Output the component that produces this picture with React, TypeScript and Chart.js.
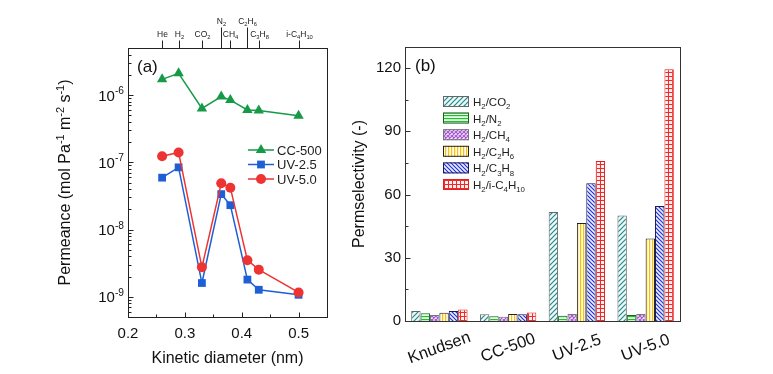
import React, { useEffect, useRef } from 'react';
import { Chart, registerables } from 'chart.js';
Chart.register(...registerables);

const W = 773;
const H = 374;
const FONT = "'Liberation Sans', Arial, Helvetica, sans-serif";

// ---------- Panel (a): permeance vs kinetic diameter ----------
const diameters = [0.26, 0.289, 0.33, 0.364, 0.38, 0.41, 0.43, 0.5];
const gasLabels = ['He', 'H_2', 'CO_2', 'N_2', 'CH_4', 'C_2H_6', 'C_3H_8', 'i-C_4H_{10}'];
const gasRaised = [false, false, false, true, false, true, false, false];
const cc500 = [1.71e-6, 2.1e-6, 6.3e-7, 9.5e-7, 8.4e-7, 6.0e-7, 5.9e-7, 4.9e-7];
const uv25 = [5.9e-8, 8.4e-8, 1.6e-9, 3.36e-8, 2.3e-8, 1.8e-9, 1.27e-9, 1.07e-9];
const uv50 = [1.23e-7, 1.4e-7, 2.74e-9, 4.86e-8, 4.19e-8, 3.5e-9, 2.53e-9, 1.16e-9];
const seriesNamesA = ['CC-500', 'UV-2.5', 'UV-5.0'];
const xTicksA = [0.2, 0.3, 0.4, 0.5];
const yTicksA = [1e-9, 1e-8, 1e-7, 1e-6];
const yTickLabelsA = ['10^{-9}', '10^{-8}', '10^{-7}', '10^{-6}'];
const yTitleA = 'Permeance (mol Pa^{-1} m^{-2} s^{-1})';

// ---------- Panel (b): permselectivity ----------
const membranes = ['Knudsen', 'CC-500', 'UV-2.5', 'UV-5.0'];
const pairLabels = ['H_2/CO_2', 'H_2/N_2', 'H_2/CH_4', 'H_2/C_2H_6', 'H_2/C_3H_8', 'H_2/i-C_4H_{10}'];
const pairNames = ['H₂/CO₂', 'H₂/N₂', 'H₂/CH₄', 'H₂/C₂H₆', 'H₂/C₃H₈', 'H₂/i-C₄H₁₀'];
const selCO2 = [4.7, 3.2, 51.7, 50.0];
const selN2 = [3.7, 2.2, 2.5, 2.9];
const selCH4 = [2.8, 2.0, 3.3, 3.3];
const selC2H6 = [3.9, 3.3, 46.5, 39.2];
const selC3H8 = [4.7, 3.2, 65.4, 54.6];
const selC4H10 = [5.4, 4.0, 75.9, 119.4];
const yTicksB = [0, 30, 60, 90, 120];

const GREEN = '#169a48';
const BLUE = '#1f5fd6';
const RED = '#ee3333';

type Seg = { t: string; mode: 'n' | 'sub' | 'sup' };
function parseRich(text: string): Seg[] {
  const segs: Seg[] = [];
  let i = 0;
  while (i < text.length) {
    const ch = text[i];
    if (ch === '_' || ch === '^') {
      let s = '';
      if (text[i + 1] === '{') {
        const j = text.indexOf('}', i + 2);
        s = text.slice(i + 2, j);
        i = j + 1;
      } else {
        s = text[i + 1];
        i += 2;
      }
      segs.push({ t: s, mode: ch === '_' ? 'sub' : 'sup' });
    } else {
      let j = i;
      while (j < text.length && text[j] !== '_' && text[j] !== '^') j++;
      segs.push({ t: text.slice(i, j), mode: 'n' });
      i = j;
    }
  }
  return segs;
}

function drawRich(ctx: CanvasRenderingContext2D, text: string, x: number, y: number, size: number, align: 'left' | 'center' | 'right', color: string) {
  const segs = parseRich(text);
  const small = size * 0.68;
  const fontN = `${size}px ${FONT}`;
  const fontS = `${small}px ${FONT}`;
  let total = 0;
  const widths = segs.map((s) => {
    ctx.font = s.mode === 'n' ? fontN : fontS;
    const w = ctx.measureText(s.t).width;
    total += w;
    return w;
  });
  let cx = align === 'left' ? x : align === 'center' ? x - total / 2 : x - total;
  ctx.fillStyle = color;
  ctx.textAlign = 'left';
  ctx.textBaseline = 'alphabetic';
  segs.forEach((s, k) => {
    ctx.font = s.mode === 'n' ? fontN : fontS;
    const dy = s.mode === 'sub' ? size * 0.28 : s.mode === 'sup' ? -size * 0.42 : 0;
    ctx.fillText(s.t, cx, y + dy);
    cx += widths[k];
  });
}

function drawMarker(ctx: CanvasRenderingContext2D, style: string, x: number, y: number, r: number, color: string) {
  ctx.fillStyle = color;
  ctx.strokeStyle = color;
  ctx.beginPath();
  if (style === 'triangle') {
    let rad = 0;
    ctx.moveTo(x + Math.sin(rad) * r, y - Math.cos(rad) * r);
    rad += (2 * Math.PI) / 3;
    ctx.lineTo(x + Math.sin(rad) * r, y - Math.cos(rad) * r);
    rad += (2 * Math.PI) / 3;
    ctx.lineTo(x + Math.sin(rad) * r, y - Math.cos(rad) * r);
    ctx.closePath();
  } else if (style === 'rect') {
    const s = r * Math.SQRT1_2;
    ctx.rect(x - s, y - s, 2 * s, 2 * s);
  } else {
    ctx.arc(x, y, r, 0, Math.PI * 2);
  }
  ctx.fill();
}

function makePattern(kind: string, fg: string, bg: string): CanvasPattern | string {
  const c = document.createElement('canvas');
  const s = kind === 'fwd' ? 5 : kind === 'horiz' || kind === 'vert' ? 3 : 4;
  c.width = s;
  c.height = s;
  const g = c.getContext('2d');
  if (!g) return fg;
  g.fillStyle = bg;
  g.fillRect(0, 0, s, s);
  g.strokeStyle = fg;
  g.fillStyle = fg;
  g.lineWidth = 1.2;
  g.beginPath();
  if (kind === 'fwd') {
    g.moveTo(0, s); g.lineTo(s, 0);
    g.moveTo(-1, 1); g.lineTo(1, -1);
    g.moveTo(s - 1, s + 1); g.lineTo(s + 1, s - 1);
    g.stroke();
  } else if (kind === 'back') {
    g.moveTo(0, 0); g.lineTo(s, s);
    g.moveTo(-1, s - 1); g.lineTo(1, s + 1);
    g.moveTo(s - 1, -1); g.lineTo(s + 1, 1);
    g.stroke();
  } else if (kind === 'cross') {
    g.moveTo(0, 0); g.lineTo(s, s);
    g.moveTo(0, s); g.lineTo(s, 0);
    g.stroke();
  } else if (kind === 'horiz') {
    g.fillRect(0, 1, s, 1.2);
  } else if (kind === 'vert') {
    g.fillRect(1, 0, 1.2, s);
  } else if (kind === 'grid') {
    g.fillRect(0, 0, s, 1);
    g.fillRect(0, 0, 1, s);
  }
  const p = g.createPattern(c, 'repeat');
  return p || fg;
}

function line(ctx: CanvasRenderingContext2D, x1: number, y1: number, x2: number, y2: number) {
  ctx.beginPath();
  ctx.moveTo(x1, y1);
  ctx.lineTo(x2, y2);
  ctx.stroke();
}

const plugA = {
  id: 'decorA',
  afterDraw(chart: any) {
    const { ctx, chartArea: ca, scales } = chart;
    const xs = scales.x;
    const ys = scales.y;
    const L = Math.round(ca.left) + 0.5;
    const R = Math.round(ca.right) + 0.5;
    const T = Math.round(ca.top) + 0.5;
    const B = Math.round(ca.bottom) + 0.5;
    ctx.save();
    ctx.strokeStyle = '#222';
    ctx.lineWidth = 1;
    ctx.strokeRect(L, T, R - L, B - T);
    // bottom inward ticks
    for (let k = 4; k <= 11; k++) {
      const v = k * 0.05;
      const px = Math.round(xs.getPixelForValue(v)) + 0.5;
      line(ctx, px, B, px, B - (k % 2 === 0 ? 5 : 3));
    }
    // left inward ticks (log)
    for (let d = -10; d <= -6; d++) {
      for (let m = 1; m <= 9; m++) {
        const v = m * Math.pow(10, d);
        if (v < ys.min * 0.999 || v > ys.max * 1.001) continue;
        const py = Math.round(ys.getPixelForValue(v)) + 0.5;
        line(ctx, L, py, L + (m === 1 ? 5 : 3), py);
      }
    }
    // y tick labels with superscripts
    yTicksA.forEach((v, i) => {
      const py = ys.getPixelForValue(v);
      drawRich(ctx, yTickLabelsA[i], ca.left - 4, py + 5.5, 15, 'right', '#111');
    });
    // y title, rotated
    ctx.save();
    ctx.translate(64.5, (ca.top + ca.bottom) / 2);
    ctx.rotate(-Math.PI / 2);
    drawRich(ctx, yTitleA, 0, 5.8, 16, 'center', '#111');
    ctx.restore();
    // top gas ticks + labels
    ctx.strokeStyle = '#222';
    ctx.lineWidth = 1;
    diameters.forEach((d, i) => {
      const px = Math.round(xs.getPixelForValue(d)) + 0.5;
      const len = gasRaised[i] ? 21 : 8;
      line(ctx, px, T, px, T - len);
      drawRich(ctx, gasLabels[i], px, T - len - 3.5, 8.5, 'center', '#222');
    });
    // panel label
    drawRich(ctx, '(a)', ca.left + 9, ca.top + 24, 17, 'left', '#111');
    // legend
    const styles = ['triangle', 'rect', 'circle'];
    const colors = [GREEN, BLUE, RED];
    const radii = [6, 5.5, 5];
    const lx = ca.left + 120;
    const ly = ca.top + 102;
    seriesNamesA.forEach((name, i) => {
      const y = ly + i * 14.5;
      ctx.strokeStyle = colors[i];
      ctx.lineWidth = 1.5;
      line(ctx, lx, y, lx + 26, y);
      drawMarker(ctx, styles[i], lx + 13, y, radii[i], colors[i]);
      drawRich(ctx, name, lx + 29, y + 4.5, 13, 'left', '#222');
    });
    ctx.restore();
  },
};

const plugB = {
  id: 'decorB',
  afterDraw(chart: any) {
    const { ctx, chartArea: ca, scales } = chart;
    const xs = scales.x;
    const ys = scales.y;
    const L = Math.round(ca.left) + 0.5;
    const R = Math.round(ca.right) + 0.5;
    const T = Math.round(ca.top) + 0.5;
    const B = Math.round(ca.bottom) + 0.5;
    ctx.save();
    ctx.strokeStyle = '#333';
    ctx.lineWidth = 1;
    ctx.strokeRect(L, T, R - L, B - T);
    for (let v = 0; v <= 120; v += 15) {
      const py = Math.round(ys.getPixelForValue(v)) + 0.5;
      line(ctx, L, py, L + (v % 30 === 0 ? 5 : 3), py);
    }
    // rotated category labels
    membranes.forEach((m, i) => {
      const px = xs.getPixelForValue(i);
      ctx.save();
      ctx.translate(px, ca.bottom + 27);
      ctx.rotate((-20 * Math.PI) / 180);
      ctx.font = `16.5px ${FONT}`;
      ctx.fillStyle = '#111';
      ctx.textAlign = 'center';
      ctx.textBaseline = 'middle';
      ctx.fillText(m, 0, 0);
      ctx.restore();
    });
    drawRich(ctx, '(b)', ca.left + 10, ca.top + 24, 17, 'left', '#111');
    // legend
    const ds = chart.data.datasets;
    const bx = ca.left + 38;
    const by = ca.top + 49;
    pairLabels.forEach((lab, i) => {
      const y = by + i * 16.6;
      ctx.fillStyle = ds[i].backgroundColor;
      ctx.fillRect(bx, y, 26, 11);
      ctx.strokeStyle = ds[i].borderColor;
      ctx.lineWidth = 1;
      ctx.strokeRect(bx + 0.5, y + 0.5, 25, 10);
      drawRich(ctx, lab, bx + 30, y + 10, 11.5, 'left', '#222');
    });
    ctx.restore();
  },
};

function cfgA(): any {
  const mk = (vals: number[]) => diameters.map((d, i) => ({ x: d, y: vals[i] }));
  return {
    type: 'line',
    data: {
      datasets: [
        { label: seriesNamesA[0], data: mk(cc500), borderColor: GREEN, backgroundColor: GREEN, pointStyle: 'triangle', pointRadius: 6, pointBorderWidth: 0, borderWidth: 1.5 },
        { label: seriesNamesA[2], data: mk(uv50), borderColor: RED, backgroundColor: RED, pointStyle: 'circle', pointRadius: 5, pointBorderWidth: 0, borderWidth: 1.5 },
        { label: seriesNamesA[1], data: mk(uv25), borderColor: BLUE, backgroundColor: BLUE, pointStyle: 'rect', pointRadius: 5.5, pointBorderWidth: 0, borderWidth: 1.5 },
      ],
    },
    options: {
      animation: false,
      responsive: false,
      maintainAspectRatio: false,
      events: [],
      layout: { padding: { left: 51, right: 446, top: 48, bottom: 0 } },
      plugins: { legend: { display: false }, tooltip: { enabled: false } },
      scales: {
        x: {
          type: 'linear',
          min: 0.2,
          max: 0.55,
          afterBuildTicks: (s: any) => { s.ticks = xTicksA.map((v) => ({ value: v })); },
          afterFit: (s: any) => { s.height = 57; },
          grid: { display: false, drawTicks: false },
          border: { display: false },
          ticks: { padding: 8, color: '#111', font: { family: FONT, size: 15 }, callback: (v: any) => Number(v).toFixed(1) },
          title: { display: true, text: 'Kinetic diameter (nm)', color: '#111', font: { family: FONT, size: 16 }, padding: { top: 0, bottom: 6 } },
        },
        y: {
          type: 'logarithmic',
          min: 5e-10,
          max: 5e-6,
          afterBuildTicks: (s: any) => { s.ticks = yTicksA.map((v) => ({ value: v })); },
          afterFit: (s: any) => { s.width = 77; },
          grid: { display: false, drawTicks: false },
          border: { display: false },
          ticks: { display: false },
          title: { display: false },
        },
      },
    },
    plugins: [plugA],
  };
}

function cfgB(): any {
  const pats = [
    makePattern('fwd', '#238a8a', '#eef8f8'),
    makePattern('horiz', '#1fbf2a', '#eaffea'),
    makePattern('cross', '#a457cf', '#f4e8fb'),
    makePattern('vert', '#f4c20d', '#fffbe8'),
    makePattern('back', '#2233cc', '#eef0ff'),
    makePattern('grid', '#f02a2a', '#ffeeee'),
  ];
  const borders = ['#666', '#1d5e22', '#777', '#222', '#1a1a55', '#e02020'];
  const vals = [selCO2, selN2, selCH4, selC2H6, selC3H8, selC4H10];
  return {
    type: 'bar',
    data: {
      labels: membranes,
      datasets: vals.map((v, i) => ({
        label: pairNames[i],
        data: v,
        backgroundColor: pats[i],
        borderColor: borders[i],
        borderWidth: 1,
        categoryPercentage: 0.82,
        barPercentage: 1.0,
      })),
    },
    options: {
      animation: false,
      responsive: false,
      maintainAspectRatio: false,
      events: [],
      layout: { padding: { left: 346, right: 93, top: 47, bottom: 0 } },
      plugins: { legend: { display: false }, tooltip: { enabled: false } },
      scales: {
        x: {
          type: 'category',
          afterFit: (s: any) => { s.height = 53; },
          grid: { display: false, drawTicks: false },
          border: { display: false },
          ticks: { display: false },
        },
        y: {
          type: 'linear',
          min: 0,
          max: 130,
          afterBuildTicks: (s: any) => { s.ticks = yTicksB.map((v) => ({ value: v })); },
          afterFit: (s: any) => { s.width = 59; },
          grid: { display: false, drawTicks: false },
          border: { display: false },
          ticks: { padding: 4, color: '#111', font: { family: FONT, size: 15 } },
          title: { display: true, text: 'Permselectivity (-)', color: '#111', font: { family: FONT, size: 16 }, padding: { top: 4, bottom: 4 } },
        },
      },
    },
    plugins: [plugB],
  };
}

export default function App() {
  const refA = useRef<HTMLCanvasElement>(null);
  const refB = useRef<HTMLCanvasElement>(null);
  useEffect(() => {
    if (!refA.current || !refB.current) return;
    const a = new Chart(refA.current, cfgA());
    const b = new Chart(refB.current, cfgB());
    return () => {
      a.destroy();
      b.destroy();
    };
  }, []);
  const cs: React.CSSProperties = { position: 'absolute', left: 0, top: 0, width: W, height: H };
  return (
    <div style={{ position: 'fixed', left: 0, top: 0, width: W, height: H, background: '#fff' }}>
      <canvas ref={refA} width={W} height={H} style={cs} />
      <canvas ref={refB} width={W} height={H} style={cs} />
    </div>
  );
}
